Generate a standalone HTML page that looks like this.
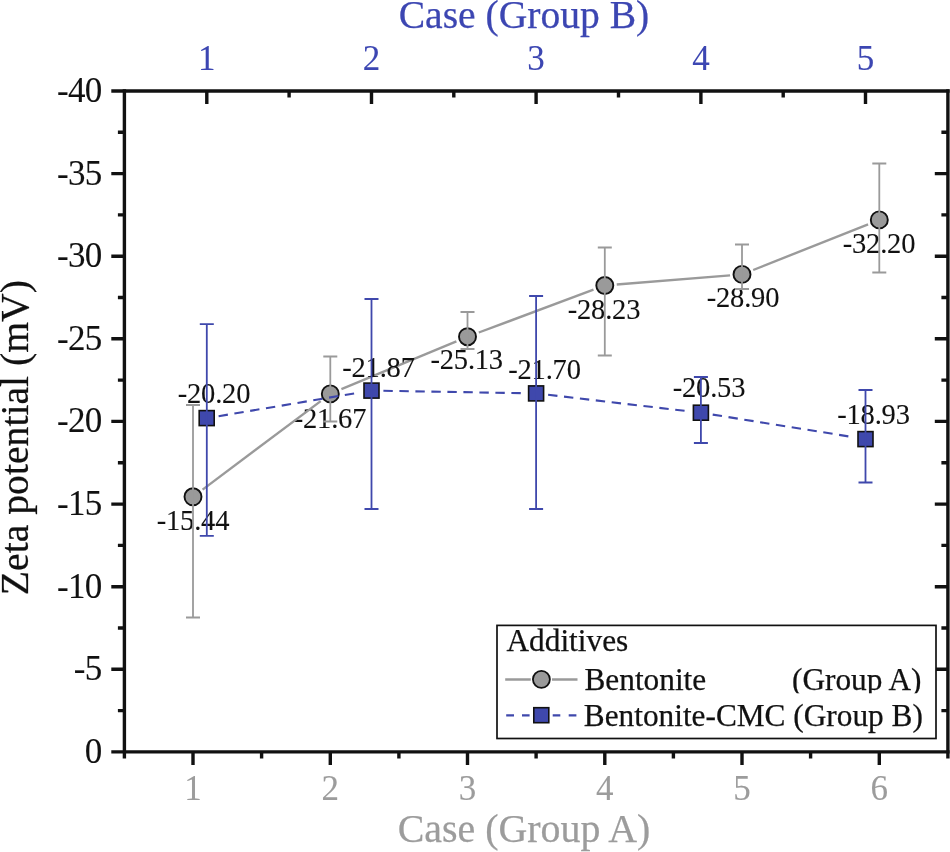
<!DOCTYPE html>
<html><head><meta charset="utf-8"><title>Zeta potential</title>
<style>
html,body{margin:0;padding:0;background:#fff;}
body{width:950px;height:852px;overflow:hidden;}
svg{display:block;font-family:"Liberation Serif",serif;will-change:transform;}
</style></head><body>
<svg width="950" height="852" viewBox="0 0 950 852">
<rect width="950" height="852" fill="#fff"/>
<defs><clipPath id="lc"><rect x="780" y="655" width="160" height="38.2"/></clipPath></defs>
<g font-size="28.5" letter-spacing="-0.2" fill="#111" stroke="#111" stroke-width="0.1" text-anchor="middle">
<text x="193" y="529.5">-15.44</text>
<text x="330" y="428">-21.67</text>
<text x="466.7" y="369.3">-25.13</text>
<text x="604" y="319.3">-28.23</text>
<text x="743" y="307">-28.90</text>
<text x="879" y="253">-32.20</text>
</g>
<g stroke="#9a9a9a" stroke-width="2.4" fill="none">
<path d="M202.6 489.6L320.7 401.1"/>
<path d="M341.4 389.2L456.4 341.3"/>
<path d="M478.8 332.5L593.5 289.7"/>
<path d="M616.7 284.5L730.1 275.4"/>
<path d="M753.2 270.0L868.1 224.3"/>
</g>
<g fill="#9a9a9a" stroke="#111" stroke-width="1.9">
<circle cx="193.0" cy="496.8" r="8.5"/>
<circle cx="330.3" cy="393.9" r="8.5"/>
<circle cx="467.5" cy="336.7" r="8.5"/>
<circle cx="604.8" cy="285.5" r="8.5"/>
<circle cx="742.0" cy="274.4" r="8.5"/>
<circle cx="879.3" cy="219.9" r="8.5"/>
</g>
<g stroke="#9a9a9a" stroke-width="1.8" fill="none">
<path d="M193.0 405.0V617.5M186.0 405.0H200.0M186.0 617.5H200.0"/>
<path d="M330.3 356.5V421.5M323.3 356.5H337.3M323.3 421.5H337.3"/>
<path d="M467.5 312.0V349.0M460.5 312.0H474.5M460.5 349.0H474.5"/>
<path d="M604.8 247.5V355.5M597.8 247.5H611.8M597.8 355.5H611.8"/>
<path d="M742.0 244.5V289.0M735.0 244.5H749.0M735.0 289.0H749.0"/>
<path d="M879.3 163.5V272.5M872.3 163.5H886.3M872.3 272.5H886.3"/>
</g>
<g font-size="28.5" letter-spacing="-0.2" fill="#111" stroke="#111" stroke-width="0.1" text-anchor="middle">
<text x="214" y="403">-20.20</text>
<text x="378.5" y="377">-21.87</text>
<text x="544.5" y="379">-21.70</text>
<text x="709" y="397">-20.53</text>
<text x="873.5" y="424">-18.93</text>
</g>
<g stroke="#3f48ac" stroke-width="2.1" fill="none" stroke-dasharray="9.4 6.6">
<path d="M218.6 416.2L359.6 392.5"/>
<path d="M383.4 390.8L524.2 393.2"/>
<path d="M548.1 394.8L688.9 411.3"/>
<path d="M712.7 414.6L853.7 437.2"/>
</g>
<g fill="#3f48ac" stroke="#111" stroke-width="1.6">
<rect x="199.2" y="410.6" width="15" height="15"/>
<rect x="364.0" y="383.1" width="15" height="15"/>
<rect x="528.6" y="385.9" width="15" height="15"/>
<rect x="693.4" y="405.2" width="15" height="15"/>
<rect x="858.0" y="431.6" width="15" height="15"/>
</g>
<g stroke="#3f48ac" stroke-width="1.8" fill="none">
<path d="M206.8 324.2V535.8M199.8 324.2H213.8M199.8 535.8H213.8"/>
<path d="M371.5 299.0V509.0M364.5 299.0H378.5M364.5 509.0H378.5"/>
<path d="M536.1 296.0V509.0M529.1 296.0H543.1M529.1 509.0H543.1"/>
<path d="M700.9 377.0V443.0M693.9 377.0H707.9M693.9 443.0H707.9"/>
<path d="M865.5 390.0V482.5M858.5 390.0H872.5M858.5 482.5H872.5"/>
</g>
<g stroke="#111" stroke-width="3.4" fill="none" stroke-linecap="butt">
<path d="M111.3 91.0H949.6"/>
<path d="M111.3 751.9H949.6"/>
<path d="M124.4 89.3V758.4"/>
<path d="M947.9 89.3V758.4"/>
<path d="M117.9 710.6H124.4M941.4 710.6H947.9M111.3 669.3H124.4M934.8 669.3H947.9M117.9 628.0H124.4M941.4 628.0H947.9M111.3 586.7H124.4M934.8 586.7H947.9M117.9 545.4H124.4M941.4 545.4H947.9M111.3 504.1H124.4M934.8 504.1H947.9M117.9 462.8H124.4M941.4 462.8H947.9M111.3 421.4H124.4M934.8 421.4H947.9M117.9 380.1H124.4M941.4 380.1H947.9M111.3 338.8H124.4M934.8 338.8H947.9M117.9 297.5H124.4M941.4 297.5H947.9M111.3 256.2H124.4M934.8 256.2H947.9M117.9 214.9H124.4M941.4 214.9H947.9M111.3 173.6H124.4M934.8 173.6H947.9M117.9 132.3H124.4M941.4 132.3H947.9"/>
<path d="M193.0 751.9V765.0M261.6 751.9V758.4M330.3 751.9V765.0M398.9 751.9V758.4M467.5 751.9V765.0M536.1 751.9V758.4M604.8 751.9V765.0M673.4 751.9V758.4M742.0 751.9V765.0M810.6 751.9V758.4M879.3 751.9V765.0M206.8 91.0V104.1M289.1 91.0V97.5M371.5 91.0V104.1M453.8 91.0V97.5M536.1 91.0V104.1M618.5 91.0V97.5M700.9 91.0V104.1M783.2 91.0V97.5M865.5 91.0V104.1"/>
</g>
<g font-size="35" letter-spacing="-0.7" fill="#111" stroke="#111" stroke-width="0.1" text-anchor="end">
<text x="101.6" y="762.9">0</text>
<text x="101.6" y="680.3">-5</text>
<text x="101.6" y="597.7">-10</text>
<text x="101.6" y="515.1">-15</text>
<text x="101.6" y="432.4">-20</text>
<text x="101.6" y="349.8">-25</text>
<text x="101.6" y="267.2">-30</text>
<text x="101.6" y="184.6">-35</text>
<text x="101.6" y="102.0">-40</text>
</g>
<g font-size="35" fill="#9c9c9c" stroke="#9c9c9c" stroke-width="0.1" text-anchor="middle">
<text x="193.0" y="799.8">1</text>
<text x="330.3" y="799.8">2</text>
<text x="467.5" y="799.8">3</text>
<text x="604.8" y="799.8">4</text>
<text x="742.0" y="799.8">5</text>
<text x="879.3" y="799.8">6</text>
</g>
<g font-size="35" fill="#3c46b2" stroke="#3c46b2" stroke-width="0.1" text-anchor="middle">
<text x="206.8" y="70">1</text>
<text x="371.5" y="70">2</text>
<text x="536.1" y="70">3</text>
<text x="700.9" y="70">4</text>
<text x="865.5" y="70">5</text>
</g>
<text x="524" y="27.5" font-size="39.6" fill="#3c46b2" stroke="#3c46b2" stroke-width="0.25" text-anchor="middle">Case (Group B)</text>
<text x="524" y="841.8" font-size="39.9" fill="#9c9c9c" stroke="#9c9c9c" stroke-width="0.25" text-anchor="middle">Case (Group A)</text>
<text transform="translate(27.7 437.6) rotate(-90)" font-size="39.7" fill="#111" stroke="#111" stroke-width="0.25" text-anchor="middle">Zeta potential (mV)</text>
<rect x="497" y="625.4" width="439" height="113.1" fill="#fff" stroke="#111" stroke-width="1.7"/>
<g font-size="31.3" fill="#111" stroke="#111" stroke-width="0.25">
<text x="506.5" y="651">Additives</text>
<text x="584.5" y="689.7">Bentonite</text>
<text x="792" y="689.7" clip-path="url(#lc)">(Group A)</text>
<text x="583.8" y="726">Bentonite-CMC (Group B)</text>
</g>
<path d="M505.2 679.5H530.8M552 679.5H577.5" stroke="#9a9a9a" stroke-width="2.3"/>
<circle cx="541.4" cy="679.3" r="8.5" fill="#9a9a9a" stroke="#111" stroke-width="1.8"/>
<path d="M506.2 715.4H514M522 715.4H529.6M552.7 715.4H560.3M568.7 715.4H576.4" stroke="#3f48ac" stroke-width="2.1"/>
<rect x="533.8" y="707.7" width="15" height="15" fill="#3f48ac" stroke="#111" stroke-width="1.6"/>
</svg>
</body></html>
